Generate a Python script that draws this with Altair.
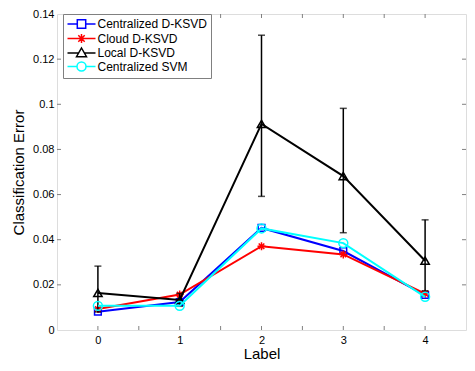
import altair as alt
import pandas as pd

labels = [0, 1, 2, 3, 4]
series_names = ["Centralized D-KSVD", "Cloud D-KSVD", "Local D-KSVD", "Centralized SVM"]
centralized_dksvd = [0.0081, 0.0124, 0.0452, 0.0350, 0.0155]
cloud_dksvd = [0.0093, 0.0157, 0.0371, 0.0335, 0.0161]
local_dksvd = [0.0164, 0.0133, 0.0913, 0.0682, 0.0307]
local_low = [0.0080, 0.0105, 0.0592, 0.0431, 0.0174]
local_high = [0.0283, 0.0162, 0.1306, 0.0982, 0.0488]
centralized_svm = [0.0107, 0.0107, 0.0450, 0.0385, 0.0147]
colors = ["#0000ff", "#ff0000", "#000000", "#00ffff"]
x_tick_values = [0, 0.5, 1, 1.5, 2, 2.5, 3, 3.5, 4]
y_tick_values = [0, 0.02, 0.04, 0.06, 0.08, 0.1, 0.12, 0.14]

FONT = "Liberation Sans"
GRAY = "#808080"
W, H = 409, 316

ASTER = "M-1,0H1M0,-1V1M-0.7,-0.7L0.7,0.7M-0.7,0.7L0.7,-0.7"
point_shapes = ["square", ASTER, "triangle-up", "circle"]
point_sizes = [45, 64, 70, 80]

# legend symbols: short line with marker (unit = sqrt(size)/2 = 5 px)
LEG_SQ = "M-2.8,0H-0.84M0.84,0H2.8M-0.84,-0.84H0.84V0.84H-0.84Z"
LEG_AST = "M-2.8,0H2.8M0,-0.9V0.9M-0.64,-0.64L0.64,0.64M-0.64,0.64L0.64,-0.64"
LEG_TRI = "M-2.8,0.0H-0.66M0.66,0.0H2.8M0,-1.0L1.0,0.75H-1.0Z"
LEG_CIR = "M-2.8,0H-0.9M0.9,0H2.8M-0.9,0A0.9,0.9 0 1,0 0.9,0A0.9,0.9 0 1,0 -0.9,0"
legend_shapes = [LEG_SQ, LEG_AST, LEG_TRI, LEG_CIR]

rows = []
for name, vals in zip(series_names, [centralized_dksvd, cloud_dksvd, local_dksvd, centralized_svm]):
    for l, v in zip(labels, vals):
        rows.append({"label": l, "error": v, "series": name})
df = pd.DataFrame(rows)
err_df = pd.DataFrame({"label": labels, "low": local_low, "high": local_high})
xt_df = pd.DataFrame({"v": x_tick_values})
yt_df = pd.DataFrame({"v": y_tick_values[1:-1]})

x_scale = alt.Scale(domain=[-0.5, 4.5], nice=False, zero=False)
y_scale = alt.Scale(domain=[0, 0.14], nice=False, zero=False)
color_scale = alt.Scale(domain=series_names, range=colors)
shape_scale = alt.Scale(domain=series_names, range=legend_shapes)

legend = alt.Legend(
    title=None, orient="none", legendX=6, legendY=0,
    labelFont=FONT, labelFontSize=12, labelColor="black",
    labelOffset=10, symbolOffset=8.5,
    strokeColor=GRAY, fillColor="white", padding=4, rowPadding=-1.5,
    symbolSize=100, symbolStrokeWidth=1.5, labelLimit=300,
    symbolFillColor="transparent",
)

x_axis = alt.Axis(values=labels, format="d", ticks=False, domain=False, grid=False,
                  labelFont=FONT, labelFontSize=11, labelPadding=4, labelFlush=False,
                  titleFont=FONT, titleFontSize=15, titleFontWeight="normal", titlePadding=1,
                  labelColor="black", titleColor="black")
y_axis = alt.Axis(values=y_tick_values, format="~g", ticks=False, domain=False, grid=False,
                  labelFont=FONT, labelFontSize=11, labelPadding=3, labelFlush=False,
                  titleFont=FONT, titleFontSize=15, titleFontWeight="normal", titlePadding=6,
                  labelColor="black", titleColor="black")


def X(field):
    return alt.X(field, scale=x_scale, axis=x_axis, title="Label")


def Y(field):
    return alt.Y(field, scale=y_scale, axis=y_axis, title="Classification Error")


def C():
    return alt.Color("series:N", scale=color_scale, legend=legend)


layers = []
# inward ticks on all four sides
layers.append(alt.Chart(yt_df).mark_rule(color=GRAY, strokeWidth=1).encode(
    y=Y("v:Q"), x=alt.value(0), x2=alt.value(4)))
layers.append(alt.Chart(yt_df).mark_rule(color=GRAY, strokeWidth=1).encode(
    y=Y("v:Q"), x=alt.value(W - 4), x2=alt.value(W)))
layers.append(alt.Chart(xt_df).mark_rule(color=GRAY, strokeWidth=1).encode(
    x=X("v:Q"), y=alt.value(H), y2=alt.value(H - 4)))
layers.append(alt.Chart(xt_df).mark_rule(color=GRAY, strokeWidth=1).encode(
    x=X("v:Q"), y=alt.value(0), y2=alt.value(4)))

for name, shp, sz in zip(series_names, point_shapes, point_sizes):
    base = alt.Chart(df).transform_filter(alt.datum.series == name)
    if name == "Local D-KSVD":
        eb = alt.Chart(err_df)
        layers.append(eb.mark_rule(color="black", strokeWidth=1.5).encode(
            x=X("label:Q"), y=Y("low:Q"), y2="high:Q"))
        for f in ["low", "high"]:
            layers.append(eb.mark_tick(color="black", orient="horizontal", size=7, thickness=1.5).encode(
                x=X("label:Q"), y=Y(f"{f}:Q")))
    layers.append(base.mark_line(strokeWidth=2).encode(
        x=X("label:Q"), y=Y("error:Q"), color=C()))
    layers.append(base.mark_point(filled=False, shape=shp, size=sz, strokeWidth=1.5, opacity=1).encode(
        x=X("label:Q"), y=Y("error:Q"), color=C()))

# legend-only layer (no data rows drawn)
layers.append(alt.Chart(df).transform_filter("false").mark_point(
    filled=False, size=100, strokeWidth=1.5, opacity=1).encode(
    x=X("label:Q"), y=Y("error:Q"), color=C(),
    shape=alt.Shape("series:N", scale=shape_scale, legend=legend)))

chart = alt.layer(*layers).properties(
    width=W, height=H,
    autosize=alt.AutoSizeParams(type="none"),
    padding={"left": 49, "top": 6, "right": 1, "bottom": 32},
).configure_view(stroke=GRAY, strokeWidth=1).configure(background="white")

chart.save("out.html", embed_options={"renderer": "svg", "actions": False})
